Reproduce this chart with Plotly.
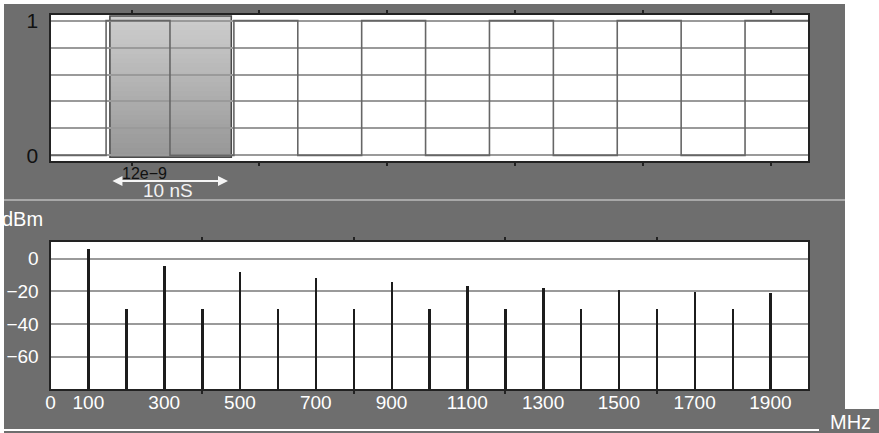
import plotly.graph_objects as go

# ---------------- data ----------------
# time-domain trace (nanoseconds)
TIME_WINDOW_NS = [5.65, 64.95]
RISING_EDGES_NS = [10, 20, 30, 40, 50, 60]
FALLING_EDGES_NS = [15, 25, 35, 45, 55]
TIME_TICKS_NS = [12, 22, 32, 42, 52, 62]
LEVEL_TICKS = [0, 0.2, 0.4, 0.6, 0.8, 1]
LEVEL_TICK_TEXT = ["0", "", "", "", "", "1"]

# spectrum
FREQ_MHZ = [100, 200, 300, 400, 500, 600, 700, 800, 900, 1000,
            1100, 1200, 1300, 1400, 1500, 1600, 1700, 1800, 1900]
POWER_DBM = [6, -30.5, -4, -30.5, -8, -30.5, -11.5, -30.5, -14, -30.5,
             -16.3, -30.5, -18, -30.5, -19, -30.8, -20.2, -30.4, -20.6]
FREQ_TICKS = [0, 100, 300, 500, 700, 900, 1100, 1300, 1500, 1700, 1900]
FREQ_TOP_TICKS = [400, 800, 1200, 1600]
DBM_TICKS = [0, -20, -40, -60]
DBM_RANGE = [-80, 10.5]
FREQ_RANGE = [0, 2000]
LEVEL_RANGE = [-0.042, 1.042]

# ---------------- layout helpers ----------------
W, H = 879, 433
def px(x):
    return x / W
def py(y):
    return 1 - y / H

FONT = "Liberation Sans, Arial, sans-serif"
PANEL = "#6e6e6e"
GRID = "#9a9a9a"
FRAME = "#222222"

# build the square wave from its edges
events = sorted([(t, 1) for t in RISING_EDGES_NS] + [(t, 0) for t in FALLING_EDGES_NS])
wave_x = [TIME_WINDOW_NS[0]] + [t for t, _ in events] + [TIME_WINDOW_NS[1]]
wave_y = [0] + [lvl for _, lvl in events] + [events[-1][1]]

fig = go.Figure()
fig.add_trace(go.Scatter(x=wave_x, y=wave_y, mode="lines",
                         line=dict(color="#666666", width=1.6, shape="hv"),
                         xaxis="x", yaxis="y", hoverinfo="skip"))
fig.add_trace(go.Bar(x=FREQ_MHZ, y=[p - DBM_RANGE[0] for p in POWER_DBM], base=DBM_RANGE[0],
                     width=5, marker=dict(color="#1c1c1c", line=dict(width=0)),
                     xaxis="x2", yaxis="y2"))

shapes = []
def prect(x0, y0, x1, y1, color):
    shapes.append(dict(type="rect", xref="paper", yref="paper", layer="below",
                       x0=px(x0), x1=px(x1), y0=py(y1), y1=py(y0),
                       fillcolor=color, line=dict(width=0)))

prect(4, 4, 845, 199, PANEL)
prect(4, 199, 845, 201, "#a8a8a8")
prect(4, 201, 845, 429, PANEL)
prect(4, 431, 819, 433, PANEL)
prect(819, 409, 879, 433, PANEL)

# white plot areas
shapes.append(dict(type="rect", xref="x", yref="y", layer="below",
                   x0=TIME_WINDOW_NS[0], x1=TIME_WINDOW_NS[1], y0=LEVEL_RANGE[0], y1=LEVEL_RANGE[1],
                   fillcolor="white", line=dict(width=0)))
shapes.append(dict(type="rect", xref="x2", yref="y2", layer="below",
                   x0=FREQ_RANGE[0], x1=FREQ_RANGE[1], y0=DBM_RANGE[0], y1=DBM_RANGE[1],
                   fillcolor="white", line=dict(width=0)))

# highlighted one-period window with vertical gradient (nested rects, no seams)
HL_X0, HL_X1 = 10.3, 19.8
HL_Y0, HL_Y1 = -0.015, 1.035
N = 30
c_bot, c_top = 150, 206
for i in range(N):
    f = (i + 0.5) / N
    c = int(round(c_bot + (c_top - c_bot) * f))
    shapes.append(dict(type="rect", xref="x", yref="y", layer="below",
                       x0=HL_X0, x1=HL_X1,
                       y0=HL_Y0 + (HL_Y1 - HL_Y0) * i / N, y1=HL_Y1,
                       fillcolor=f"rgb({c},{c},{c})", line=dict(width=0)))
shapes.append(dict(type="rect", xref="x", yref="y", layer="below",
                   x0=HL_X0, x1=HL_X1, y0=HL_Y0, y1=HL_Y1,
                   fillcolor="rgba(0,0,0,0)", line=dict(color="#4a4a4a", width=1.5)))

annotations = [
    dict(text="12e\u22129", x=13.04, xref="x", y=py(173), yref="paper",
         xanchor="center", yanchor="middle",
         showarrow=False, font=dict(family=FONT, size=16, color="#111111")),
    dict(text="10 nS", x=14.84, xref="x", y=py(190.5), yref="paper",
         xanchor="center", yanchor="middle",
         showarrow=False, font=dict(family=FONT, size=19, color="#f2f2f2")),
    dict(text="", x=19.54, xref="x", y=py(181), yref="paper",
         ax=10.38, axref="x", ay=0, ayref="pixel",
         showarrow=True, arrowside="end+start", arrowhead=2, arrowsize=1,
         arrowwidth=2, arrowcolor="#f5f5f5", standoff=0, startstandoff=0),
    dict(text="dBm", x=0, xref="paper", xanchor="left", yanchor="middle",
         y=py(218.5), yref="paper",
         showarrow=False, font=dict(family=FONT, size=20, color="white")),
    dict(text="MHz", x=px(850), xref="paper", y=py(421.5), yref="paper",
         xanchor="center", yanchor="middle",
         showarrow=False, font=dict(family=FONT, size=20, color="white")),
]

XDOM = [px(50.5), px(808.3)]
fig.update_layout(
    width=W, height=H, margin=dict(l=0, r=0, t=0, b=0, pad=0, autoexpand=False),
    paper_bgcolor="white", plot_bgcolor="white", showlegend=False,
    font=dict(family=FONT),
    shapes=shapes, annotations=annotations,
    xaxis=dict(domain=XDOM, anchor="y", range=TIME_WINDOW_NS, automargin=False,
               tickmode="array", tickvals=TIME_TICKS_NS, showticklabels=False,
               ticks="outside", ticklen=3, tickwidth=2, tickcolor=FRAME,
               showline=True, linecolor=FRAME, linewidth=2, mirror="ticks",
               showgrid=False, zeroline=False),
    yaxis=dict(domain=[py(161), py(15)], anchor="x", range=LEVEL_RANGE, automargin=False,
               tickmode="array", tickvals=LEVEL_TICKS, ticktext=LEVEL_TICK_TEXT,
               ticks="", ticklabelstandoff=6,
               tickfont=dict(family=FONT, size=21, color="#111111"),
               showgrid=True, gridcolor=GRID, gridwidth=2,
               showline=True, linecolor=FRAME, linewidth=2, mirror=True,
               zeroline=False),
    xaxis2=dict(domain=XDOM, anchor="y2", range=FREQ_RANGE, automargin=False,
                tickmode="array", tickvals=FREQ_TICKS, ticks="", ticklabelstandoff=-5,
                tickfont=dict(family=FONT, size=19, color="white"),
                minor=dict(tickmode="array", tickvals=FREQ_TOP_TICKS, ticks="outside",
                           ticklen=3, tickwidth=2, tickcolor=FRAME, showgrid=False),
                showline=True, linecolor=FRAME, linewidth=2, mirror="ticks",
                showgrid=False, zeroline=False),
    yaxis2=dict(domain=[py(389.3), py(241.7)], anchor="x2", range=DBM_RANGE, automargin=False,
                tickmode="array", tickvals=DBM_TICKS, ticks="", ticklabelstandoff=6,
                tickfont=dict(family=FONT, size=19, color="white"),
                showgrid=True, gridcolor=GRID, gridwidth=2,
                showline=True, linecolor=FRAME, linewidth=2, mirror=True,
                zeroline=False),
    bargap=0,
)

fig.write_html("out.html", config={"displayModeBar": False},
               post_script="document.body.style.margin='0px';document.body.style.overflow='hidden';")
